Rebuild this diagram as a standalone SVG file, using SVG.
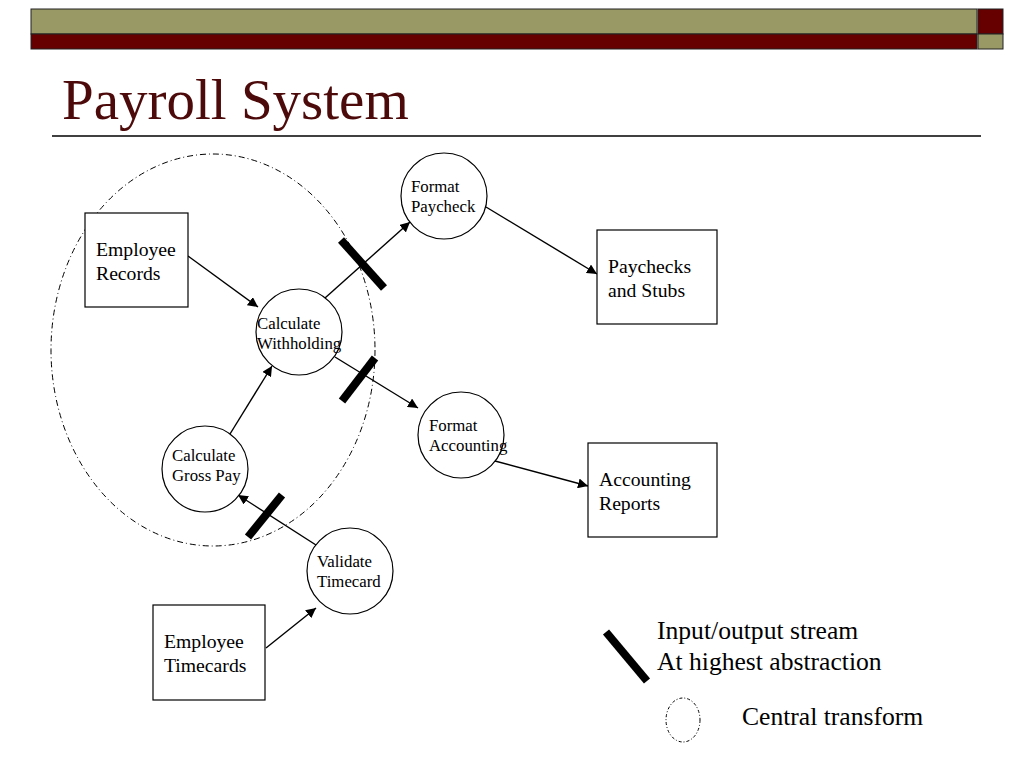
<svg xmlns="http://www.w3.org/2000/svg" width="1024" height="768" viewBox="0 0 1024 768">
<defs>
<marker id="arr" viewBox="0 0 10 10" refX="10" refY="5" markerWidth="10" markerHeight="10" markerUnits="userSpaceOnUse" orient="auto">
<path d="M0,0 L10,5 L0,10 z" fill="#000"/>
</marker>
</defs>
<style>
.t{font-family:"Liberation Serif","Times New Roman",serif;fill:#000}
.box{fill:#fff;stroke:#000;stroke-width:1.2}
.proc{fill:#fff;stroke:#000;stroke-width:1.2}
.c{stroke:#000;stroke-width:1.4;fill:none;marker-end:url(#arr)}
.bar{stroke:#000;stroke-width:8;stroke-linecap:butt}
.ct{fill:none;stroke:#000;stroke-width:1;stroke-dasharray:6 3 1 3}
.s{font-size:16.8px}
.m{font-size:19.7px}
.l{font-size:25.6px}
</style>
<rect width="1024" height="768" fill="#fff"/>
<g id="header">
<rect x="31" y="9" width="946" height="25" fill="#999966" stroke="#222" stroke-width="1"/>
<rect x="31" y="34" width="946" height="15" fill="#660000" stroke="#222" stroke-width="1"/>
<rect x="978" y="9" width="25" height="25" fill="#660000" stroke="#222" stroke-width="1"/>
<rect x="978" y="34" width="25" height="15" fill="#999966" stroke="#222" stroke-width="1"/>
</g>
<text class="t" x="62" y="119" font-size="57" style="fill:#4d0a0a">Payroll System</text>
<line x1="52" y1="136" x2="981" y2="136" stroke="#000" stroke-width="1.5"/>
<g id="central-transform">
<ellipse class="ct" cx="213" cy="350" rx="162" ry="196"/>
</g>
<g id="connectors">
<line class="c" x1="188" y1="256" x2="258" y2="307"/>
<line class="c" x1="325" y1="298" x2="410" y2="222"/>
<line class="c" x1="486" y1="207" x2="597" y2="274"/>
<line class="c" x1="335" y1="357" x2="418" y2="408"/>
<line class="c" x1="495" y1="461" x2="588" y2="486"/>
<line class="c" x1="230" y1="434" x2="272" y2="366"/>
<line class="c" x1="316" y1="545" x2="238" y2="495"/>
<line class="c" x1="266" y1="648" x2="316" y2="608"/>
<line class="bar" x1="341" y1="240" x2="384" y2="288"/>
<line class="bar" x1="375" y1="358" x2="342" y2="401"/>
<line class="bar" x1="282" y1="495" x2="248" y2="537"/>
</g>
<g id="employee-records">
<rect class="box" x="85" y="213" width="103" height="94"/>
<text class="t m" x="96" y="256">Employee</text>
<text class="t m" x="96" y="280">Records</text>
</g>
<g id="calculate-withholding">
<circle class="proc" cx="299" cy="332" r="43"/>
<text class="t s" x="257" y="329">Calculate</text>
<text class="t s" x="257" y="349">Withholding</text>
</g>
<g id="format-paycheck">
<circle class="proc" cx="444" cy="196" r="43"/>
<text class="t s" x="411" y="192">Format</text>
<text class="t s" x="411" y="212">Paycheck</text>
</g>
<g id="paychecks-and-stubs">
<rect class="box" x="597" y="230" width="120" height="94"/>
<text class="t m" x="608" y="273">Paychecks</text>
<text class="t m" x="608" y="297">and Stubs</text>
</g>
<g id="format-accounting">
<circle class="proc" cx="461" cy="435" r="43"/>
<text class="t s" x="429" y="431">Format</text>
<text class="t s" x="429" y="451">Accounting</text>
</g>
<g id="accounting-reports">
<rect class="box" x="588" y="443" width="129" height="94"/>
<text class="t m" x="599" y="486">Accounting</text>
<text class="t m" x="599" y="510">Reports</text>
</g>
<g id="calculate-gross-pay">
<circle class="proc" cx="205" cy="469" r="43"/>
<text class="t s" x="172" y="461">Calculate</text>
<text class="t s" x="172" y="481">Gross Pay</text>
</g>
<g id="validate-timecard">
<circle class="proc" cx="350" cy="571" r="43"/>
<text class="t s" x="317" y="567">Validate</text>
<text class="t s" x="317" y="587">Timecard</text>
</g>
<g id="employee-timecards">
<rect class="box" x="153" y="605" width="112" height="95"/>
<text class="t m" x="164" y="648">Employee</text>
<text class="t m" x="164" y="672">Timecards</text>
</g>
<g id="legend">
<line class="bar" x1="606" y1="632" x2="647" y2="681"/>
<text class="t l" x="657" y="639">Input/output stream</text>
<text class="t l" x="657" y="670">At highest abstraction</text>
<ellipse class="ct" cx="683" cy="720" rx="17" ry="22" style="stroke-dasharray:3 2 1 2"/>
<text class="t l" x="742" y="725">Central transform</text>
</g>
</svg>
